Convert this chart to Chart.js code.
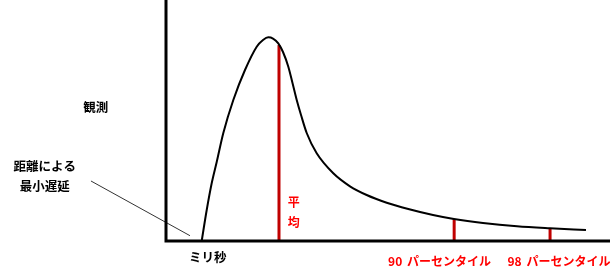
<!DOCTYPE html>
<html>
<head>
<meta charset="utf-8">
<script src="https://cdn.jsdelivr.net/npm/chart.js@4"></script>
<style>
  html, body { margin: 0; padding: 0; background: #fff; }
  canvas { display: block; }
</style>
</head>
<body>
<canvas id="c" width="612" height="274"></canvas>
<script>
// ---- data (latency in arbitrary ms units, observations in arbitrary counts) ----
const curveX = [8.04, 9.17, 10.29, 11.42, 12.91, 15.16, 17.79, 20.43, 21.85, 23.04, 24.10, 25.29, 26.35, 27.55, 28.49, 29.44, 30.41, 31.69, 33.94, 37.68, 41.44, 45.20, 49.71, 54.57, 60.14, 64.86, 71.40, 79.05, 86.49, 94.59];
const curveY = [0, 12.86, 23.94, 32.78, 44.81, 58.51, 70.95, 80.62, 83.40, 84.52, 84.02, 82.03, 78.42, 72.32, 65.56, 58.51, 52.28, 44.81, 36.39, 28.09, 22.70, 19.09, 15.89, 13.28, 10.79, 9.13, 7.47, 6.10, 5.27, 4.56];
const markerNames = ['平均', '90 パーセンタイル', '98 パーセンタイル'];
const markerX = [25.45, 64.9, 86.5];
const markerTop = [81.3, 9.1, 5.4];
const axisTitleX = 'ミリ秒';
const axisTitleY = '観測';
const minLatencyLabel = ['距離による', '最小遅延'];
const leaderX = [-16.9, 5.4];
const leaderY = [24.9, 2.2];

// ---- label placement (data coordinates) ----
const labelPlace = {
  yTitle: { x: -15.8, y: 55.4 },
  xTitle: { x: 9.4, y: -6.6 },
  minLat: { x: -27.3, y: [31.1, 22.8] },
  mean:   { x: 28.8, y: [15.8, 7.9] },
  p90:    { x: 61.6, y: -8.3 },
  p98:    { x: 88.5, y: -8.3 }
};

const pts = (xs, ys) => xs.map((x, i) => ({ x: x, y: ys[i] }));

const datasets = [
  {
    label: 'curve',
    data: pts(curveX, curveY),
    borderColor: '#000',
    borderWidth: 2,
    pointRadius: 0,
    cubicInterpolationMode: 'monotone',
    fill: false,
    clip: false
  },
  {
    label: 'leader',
    data: pts(leaderX, leaderY),
    borderColor: '#333',
    borderWidth: 1,
    pointRadius: 0,
    clip: false
  }
];
markerX.forEach((mx, i) => {
  datasets.push({
    label: markerNames[i],
    data: [{ x: mx, y: 0 }, { x: mx, y: markerTop[i] }],
    borderColor: '#c00000',
    borderWidth: 3,
    pointRadius: 0,
    clip: false
  });
});

const BLACK_FONT = 'bold 12.5px "Noto Sans CJK JP", "Noto Sans", sans-serif';
const RED_FONT = 'bold 12px "Noto Sans CJK JP", "Noto Sans", sans-serif';

const decor = {
  id: 'decor',
  afterDatasetsDraw(chart) {
    const ctx = chart.ctx;
    const xs = chart.scales.x, ys = chart.scales.y;
    const X = v => xs.getPixelForValue(v), Y = v => ys.getPixelForValue(v);
    ctx.save();
    // axes
    ctx.strokeStyle = '#000';
    ctx.lineWidth = 3;
    ctx.beginPath();
    ctx.moveTo(X(0), Y(ys.max));
    ctx.lineTo(X(0), Y(0));
    ctx.lineTo(X(xs.max), Y(0));
    ctx.stroke();
    // texts
    ctx.textAlign = 'center';
    ctx.textBaseline = 'middle';
    ctx.fillStyle = '#000';
    ctx.font = BLACK_FONT;
    ctx.fillText(axisTitleY, X(labelPlace.yTitle.x), Y(labelPlace.yTitle.y));
    ctx.fillText(axisTitleX, X(labelPlace.xTitle.x), Y(labelPlace.xTitle.y));
    minLatencyLabel.forEach((t, i) => ctx.fillText(t, X(labelPlace.minLat.x), Y(labelPlace.minLat.y[i])));
    ctx.fillStyle = '#ff0000';
    ctx.font = RED_FONT;
    Array.from(markerNames[0]).forEach((ch, i) => ctx.fillText(ch, X(labelPlace.mean.x), Y(labelPlace.mean.y[i])));
    if ('wordSpacing' in ctx) ctx.wordSpacing = '2px';
    ctx.fillText(markerNames[1], X(labelPlace.p90.x), Y(labelPlace.p90.y));
    ctx.fillText(markerNames[2], X(labelPlace.p98.x), Y(labelPlace.p98.y));
    ctx.restore();
  }
};

new Chart(document.getElementById('c'), {
  type: 'line',
  data: { datasets: datasets },
  options: {
    responsive: false,
    animation: false,
    devicePixelRatio: 1,
    layout: { padding: { left: 166, right: 2, top: 0, bottom: 33 } },
    plugins: { legend: { display: false }, tooltip: { enabled: false } },
    scales: {
      x: { type: 'linear', min: 0, max: 100, display: false },
      y: { type: 'linear', min: 0, max: 100, display: false }
    }
  },
  plugins: [decor]
});
</script>
</body>
</html>
